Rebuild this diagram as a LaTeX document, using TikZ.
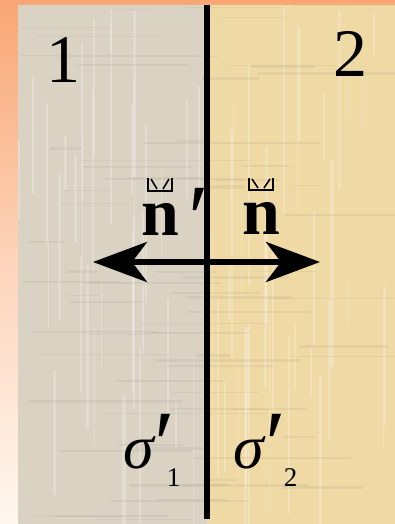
\documentclass[tikz,border=0pt]{standalone}
\usepackage{fontspec}
\setmainfont{Liberation Serif}
\usetikzlibrary{arrows.meta}
\definecolor{bgtop}{RGB}{249,166,116}
\definecolor{bgmid}{RGB}{253,212,186}
\definecolor{bgbot}{RGB}{255,247,240}
\definecolor{grayp}{RGB}{218,211,196}
\definecolor{tanp}{RGB}{239,217,165}
% place content at horizontal offset #1 from the node's base west point
\newcommand{\offbox}[2]{\makebox[0pt][l]{\hspace{#1}#2}}
\newcommand{\cbox}[1]{\makebox[0pt][c]{#1}}
\newcommand{\bigprime}[1]{\raisebox{#1}{\fontsize{95}{95}\selectfont\upshape\mdseries ′}}
\newcommand{\subnum}[1]{\raisebox{-18pt}{\fontsize{27}{27}\selectfont\upshape #1}}
\tikzset{
  big/.style={font=\fontsize{68}{68}\selectfont, inner sep=0pt, text=black},
  bigbf/.style={font=\fontsize{68}{68}\selectfont, inner sep=0pt, text=black},
  sig/.style={font=\fontsize{62}{62}\selectfont, inner sep=0pt, text=black},
  accent/.style={line width=1.6pt, black},
  wall/.style={line width=6.5pt, black},
  texlight/.style={white, opacity=0.22},
  texdark/.style={black!60, opacity=0.08},
  dblarrow/.style={line width=6pt, black, {Stealth[length={54pt 0},width={40pt 0},inset={15pt 0}]}-{Stealth[length={54pt 0},width={40pt 0},inset={15pt 0}]}}
}
\begin{document}
\begin{tikzpicture}[x=1pt,y=-1pt]
\useasboundingbox (0,0) rectangle (395,524);
\shade[top color=bgtop, bottom color=bgbot, middle color=bgmid] (0,0) rectangle (395,524);
\fill[grayp] (18,5) rectangle (207,524);
\fill[tanp] (207,5) rectangle (395,524);
% texture
\pgfmathsetseed{11}
\begin{scope}
\clip (18,5) rectangle (395,524);
\foreach \i in {1,...,70}{
  \pgfmathsetmacro{\xx}{18+rnd*377}
  \pgfmathsetmacro{\ww}{0.8+rnd*2.5}
  \pgfmathsetmacro{\ya}{5+rnd*400}
  \pgfmathsetmacro{\yb}{\ya+40+rnd*200}
  \draw[texlight, line width=\ww pt] (\xx,\ya) -- (\xx,\yb);
}
\foreach \i in {1,...,70}{
  \pgfmathsetmacro{\yy}{5+rnd*519}
  \pgfmathsetmacro{\ww}{0.8+rnd*2.5}
  \pgfmathsetmacro{\xa}{18+rnd*300}
  \pgfmathsetmacro{\xb}{\xa+30+rnd*150}
  \draw[texdark, line width=\ww pt] (\xa,\yy) -- (\xb,\yy);
}
\end{scope}
% region labels
\node[big, anchor=base] (one) at (63,83) {1};
\node[big, anchor=base] (two) at (350,77) {2};
% wall
\coordinate (wtop) at (207,5);
\coordinate (wbot) at (207,519);
\draw[wall] (wtop) -- (wbot);
% normals
\coordinate (lt) at (93,262);
\coordinate (rt) at (320,262);
\draw[dblarrow] (lt) -- (rt);
\node[bigbf, anchor=base west] (nl) at (143,235)
  {\offbox{17pt}{\cbox{\bfseries n}}\offbox{45pt}{\bigprime{-15pt}}};
\node[bigbf, anchor=base] (nr) at (261.5,234) {\bfseries n};
\draw[accent] (148,178) -- (148,191) -- (172,191) -- (172,178);
\draw[accent] (151,179) -- (157,189) (169,179) -- (163,189);
\draw[accent] (249,178) -- (249,190) -- (273,190) -- (273,178);
\draw[accent] (252,179) -- (258,188) (270,179) -- (264,188);
% surface charges
\node[sig, anchor=base west] (s1) at (122,468)
  {\offbox{16.5pt}{\cbox{\itshape σ}}\offbox{32pt}{\bigprime{-8pt}}\offbox{44.25pt}{\subnum{1}}};
\node[sig, anchor=base west] (s2) at (232,468)
  {\offbox{16.5pt}{\cbox{\itshape σ}}\offbox{33pt}{\bigprime{-8pt}}\offbox{51.25pt}{\subnum{2}}};
\end{tikzpicture}
\end{document}
